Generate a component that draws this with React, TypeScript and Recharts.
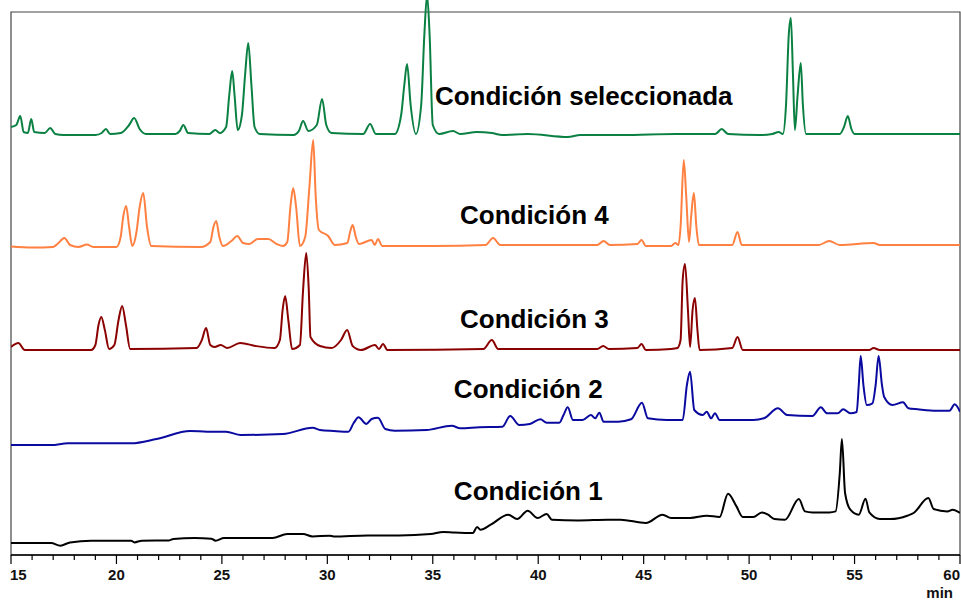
import { LineChart, Line, XAxis, YAxis, ReferenceArea, ReferenceDot } from 'recharts'

// Retention time (min) and signal height above each trace's own baseline
const seleccionada: [number, number][] = [
  [15.0, 8], [15.25, 10], [15.44, 19], [15.6, 3], [15.8, 2], [15.96, 16], [16.1, 3], [16.6, 2],
  [16.86, 7], [17.1, 1], [17.5, 0], [19.0, 0], [19.3, 2], [19.5, 6], [19.7, 1], [20.2, 2],
  [20.6, 10], [20.84, 17], [21.1, 6], [21.4, 1], [22.8, 1], [23.0, 4], [23.17, 10], [23.4, 2],
  [24.4, 1], [24.69, 5], [24.9, 2], [25.2, 8], [25.35, 40], [25.49, 64], [25.6, 40], [25.75, 5],
  [25.95, 20], [26.1, 60], [26.25, 92], [26.4, 50], [26.55, 8], [26.8, 1], [28.4, 0], [28.65, 4],
  [28.85, 14], [29.1, 4], [29.5, 10], [29.75, 36], [29.95, 10], [30.2, 2], [31.7, 1], [32.03, 11],
  [32.3, 1], [33.2, 1], [33.5, 20], [33.65, 50], [33.78, 71], [33.95, 30], [34.2, 1], [34.45, 30],
  [34.6, 100], [34.73, 140], [34.85, 100], [35.0, 10], [35.3, 1], [35.96, 4], [36.3, 1], [37.09, 3],
  [37.8, 2], [38.3, 0], [39.5, 1], [41.4, -2], [42.0, 0], [44.0, 0], [46.5, 1], [48.4, 1],
  [48.7, 6], [49.0, 1], [50.5, 0], [51.1, 1], [51.4, 3], [51.6, 1], [51.75, 30], [51.88, 100],
  [51.98, 117], [52.08, 60], [52.17, 5], [52.3, 40], [52.45, 72], [52.55, 30], [52.7, 1], [54.3, 1],
  [54.5, 8], [54.68, 19], [54.85, 6], [55.0, 1], [57.0, 1], [60.0, 1],
]

const condicion4: [number, number][] = [
  [15.0, 0.5], [16.0, -0.5], [17.0, 0], [17.25, 4], [17.53, 9], [17.8, 2], [18.2, 0], [18.6, 2.5],
  [18.9, 0], [20.0, 0], [20.2, 10], [20.32, 30], [20.46, 41], [20.6, 20], [20.75, 1], [20.95, 15],
  [21.1, 40], [21.27, 54], [21.45, 20], [21.65, 1], [24.0, 0], [24.45, 5], [24.6, 20], [24.73, 26],
  [24.88, 10], [25.05, 1], [25.45, 6], [25.73, 11], [26.0, 4], [26.3, 3], [26.7, 8], [27.2, 8],
  [27.6, 3], [27.9, 1], [28.1, 5], [28.25, 40], [28.38, 59], [28.52, 40], [28.7, 1], [28.95, 10],
  [29.15, 60], [29.33, 107], [29.45, 50], [29.6, 17], [30.04, 11], [30.35, 2], [30.95, 4], [31.08, 15],
  [31.2, 22], [31.35, 10], [31.5, 3], [32.1, 7], [32.25, 2], [32.4, 8], [32.6, 1], [35.0, 1],
  [37.5, 2], [37.86, 9], [38.2, 2], [42.8, 2], [43.1, 6], [43.4, 2], [44.7, 3], [44.9, 7],
  [45.1, 1], [46.3, 1], [46.5, 4], [46.65, 2], [46.75, 20], [46.9, 87], [47.02, 50], [47.15, 5],
  [47.25, 30], [47.38, 54], [47.5, 20], [47.62, 2], [49.2, 2], [49.45, 15], [49.65, 2], [53.3, 2],
  [53.8, 6], [54.3, 2], [55.9, 4], [56.2, 2], [60.0, 2],
]

const condicion3: [number, number][] = [
  [15.0, 3], [15.35, 7], [15.65, 0], [18.8, 0], [19.0, 5], [19.15, 25], [19.28, 33], [19.45, 20],
  [19.65, 1], [19.9, 5], [20.1, 30], [20.27, 44], [20.45, 25], [20.65, 1], [23.8, 2], [24.05, 10],
  [24.25, 22], [24.45, 5], [24.65, 3], [24.95, 5], [25.25, 2], [25.87, 7], [26.6, 4], [27.5, 2],
  [27.75, 10], [27.88, 40], [28.0, 54], [28.15, 30], [28.33, 1], [28.7, 5], [28.85, 60], [29.0, 97],
  [29.12, 60], [29.2, 13], [29.65, 4], [30.2, 2], [30.65, 10], [30.94, 20], [31.2, 4], [31.6, 0],
  [32.26, 5], [32.45, 1], [32.64, 6], [32.85, 0], [37.4, 1], [37.8, 10], [38.1, 1], [42.8, 1],
  [43.08, 4], [43.35, 1], [44.7, 2], [44.9, 6], [45.1, 0], [46.3, 1], [46.6, 2], [46.75, 10],
  [46.85, 70], [46.96, 86], [47.1, 40], [47.2, 3], [47.32, 40], [47.43, 52], [47.55, 20], [47.65, 0],
  [49.2, 2], [49.45, 13], [49.7, 0], [55.7, 0], [55.9, 2], [56.2, 0], [60.0, 0],
]

const condicion2: [number, number][] = [
  [15.0, 0], [16.9, 0], [17.7, 1.7], [20.7, 1.7], [21.9, 6], [23.5, 14], [24.3, 13.3], [25.2, 13.3],
  [25.9, 10], [27.9, 11], [29.3, 17.3], [29.65, 15], [30.3, 14], [31.0, 13.3], [31.25, 22], [31.48, 27.7],
  [31.85, 21], [32.1, 26], [32.4, 27.3], [32.75, 16], [33.2, 14.3], [34.7, 15], [35.9, 19.3], [36.3, 16.7],
  [37.2, 17.7], [38.3, 18.3], [38.67, 29], [39.1, 20], [39.6, 21], [40.1, 25.7], [40.4, 22.3], [41.0, 22.3],
  [41.2, 30], [41.4, 37.7], [41.65, 25], [42.1, 25], [42.5, 30], [42.7, 26.7], [42.9, 32.3], [43.1, 23.3],
  [43.8, 23.3], [44.4, 25.7], [44.92, 42.3], [45.2, 26.7], [46.1, 25], [46.85, 25], [47.05, 60], [47.2, 73.3],
  [47.4, 35], [47.8, 30], [47.99, 33.3], [48.2, 26.7], [48.38, 31.7], [48.6, 25], [50.2, 25], [50.7, 26.7],
  [51.37, 36.7], [51.8, 30], [53.0, 29], [53.4, 37.7], [53.7, 31.7], [54.2, 31.7], [54.46, 35.7], [54.8, 31.7],
  [55.1, 33], [55.2, 60], [55.29, 89], [55.42, 60], [55.58, 40], [55.85, 41.7], [56.0, 60], [56.14, 89],
  [56.3, 60], [56.4, 48.3], [56.8, 40], [57.3, 42.7], [57.55, 36.7], [58.0, 35.7], [58.9, 34.3], [59.5, 34.3],
  [59.75, 40.7], [60.0, 33.3],
]

const condicion1: [number, number][] = [
  [15.0, 0], [16.9, 0], [17.34, -2.7], [17.8, 0.6], [18.8, 2.3], [20.7, 2.3], [20.85, 0.6], [21.2, 2.3],
  [22.5, 2.6], [22.7, 4], [23.7, 5], [24.5, 4.3], [24.7, 2.3], [25.1, 5], [27.4, 5], [28.1, 9],
  [28.85, 9], [29.3, 6.6], [30.1, 7.3], [30.3, 6.6], [31.9, 7.6], [33.4, 7.6], [34.9, 9], [35.5, 11],
  [36.0, 10.5], [36.9, 10], [37.1, 16], [37.26, 13.3], [37.75, 18.3], [38.58, 28.3], [39.0, 24], [39.5, 32.3],
  [39.97, 25], [40.4, 29], [40.65, 23.3], [41.9, 22.6], [43.3, 23.3], [43.9, 23.3], [45.1, 20], [45.9, 28.3],
  [46.3, 25], [47.2, 25], [48.0, 27.3], [48.6, 26], [49.0, 49.3], [49.4, 36.6], [49.7, 26], [50.2, 26],
  [50.6, 30.6], [50.9, 28.3], [51.2, 24], [51.7, 23.3], [52.36, 44], [52.65, 31.6], [53.0, 30.6], [53.8, 30.6],
  [54.1, 31.6], [54.3, 70], [54.4, 104], [54.55, 50], [54.8, 33.3], [55.2, 28.3], [55.52, 44.3], [55.7, 30.6],
  [56.2, 24], [56.7, 24], [57.5, 27.3], [57.8, 30], [58.5, 45], [58.75, 34], [59.4, 31.6], [59.65, 33.3],
  [60.0, 30],
]

// vertical offset of each trace in the stack
const offsets = [420, 308, 205, 110, 12]
const colors = ['#0b8043', '#ff8040', '#8b0000', '#0a0aa0', '#000000']
const traces = [seleccionada, condicion4, condicion3, condicion2, condicion1]

const labelText = ['Condición seleccionada', 'Condición 4', 'Condición 3', 'Condición 2', 'Condición 1']
const labelX = [35.1, 36.29, 36.29, 36.0, 36.0]
const labelY = [450, 331, 227, 157, 55]

const majorTicks = [15, 20, 25, 30, 35, 40, 45, 50, 55, 60]
const minuteTicks = Array.from({ length: 46 }, (_, i) => 15 + i)

const Y_MAX = 555
const FRAME_TOP = 543
const FONT = '"Liberation Sans", Arial, sans-serif'

function MinuteTick({ x, y, payload }: { x: number; y: number; payload: { value: number } }) {
  const v = payload.value
  const major = majorTicks.includes(v)
  const anchor = v === 15 ? 'start' : v === 60 ? 'end' : 'middle'
  return (
    <g>
      <line x1={x} x2={x} y1={y} y2={y + (major ? 9 : 5)} stroke="#000" strokeWidth={1.2} />
      {major && (
        <text
          x={v === 15 ? x - 1 : x}
          y={y + 25}
          textAnchor={anchor}
          fontFamily={FONT}
          fontWeight="bold"
          fontSize={15}
          fill="#111"
        >
          {v}
        </text>
      )}
      {v === 60 && (
        <text x={x - 7} y={y + 43} textAnchor="end" fontFamily={FONT} fontWeight="bold" fontSize={15} fill="#111">
          min
        </text>
      )}
    </g>
  )
}

export default function App() {
  return (
    <div style={{ position: 'absolute', left: 0, top: 0, background: '#fff' }}>
      <LineChart width={961} height={600} margin={{ top: 0, right: 1, left: 11, bottom: 0 }}>
        <XAxis
          type="number"
          dataKey="t"
          domain={[15, 60]}
          ticks={minuteTicks}
          interval={0}
          tickSize={0}
          tickMargin={0}
          tickLine={false}
          tick={MinuteTick}
          axisLine={{ stroke: '#000', strokeWidth: 1.5 }}
          height={45}
          allowDataOverflow
        />
        <YAxis type="number" domain={[0, Y_MAX]} hide allowDataOverflow />
        {/* plot frame below the top edge */}
        <ReferenceArea x1={15} x2={60} y1={0} y2={FRAME_TOP} fill="none" stroke="#444" strokeWidth={1.2} />
        {traces.map((pts, i) => (
          <Line
            key={labelText[i]}
            data={pts.map(([t, h]) => ({ t, y: offsets[i] + h }))}
            dataKey="y"
            type="monotone"
            stroke={colors[i]}
            strokeWidth={2}
            dot={false}
            isAnimationActive={false}
          />
        ))}
        {labelText.map((txt, i) => (
          <ReferenceDot
            key={txt}
            x={labelX[i]}
            y={labelY[i]}
            r={0}
            shape={(p: { cx: number; cy: number }) => (
              <text x={p.cx} y={p.cy} fontFamily={FONT} fontWeight="bold" fontSize={26} fill="#000">
                {txt}
              </text>
            )}
          />
        ))}
      </LineChart>
    </div>
  )
}
